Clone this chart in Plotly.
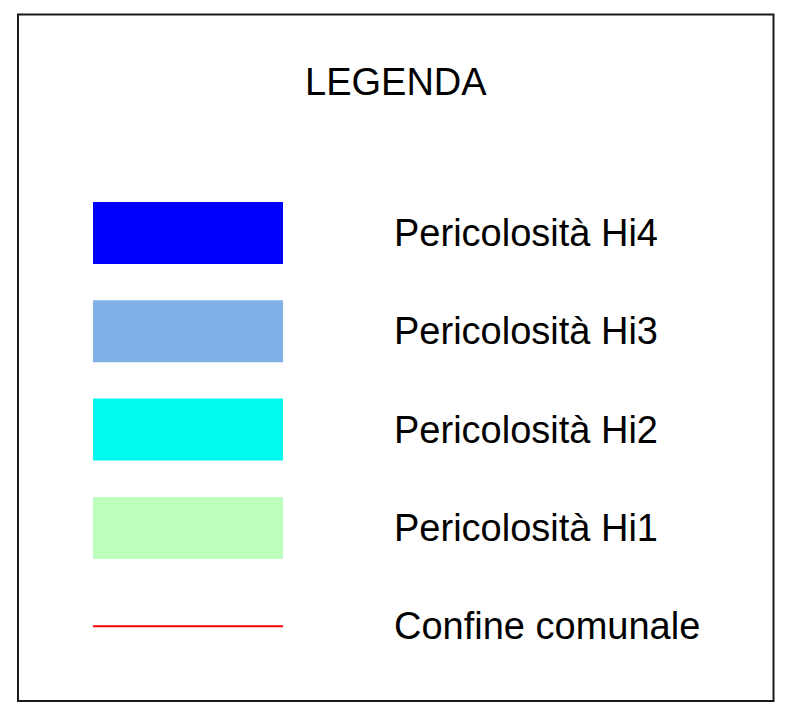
import plotly.graph_objects as go

# Legend content
title_text = "LEGENDA"
area_labels = ["Pericolosità Hi4", "Pericolosità Hi3", "Pericolosità Hi2", "Pericolosità Hi1"]
area_colors = ["#0000FF", "#80B1E6", "#00FAF0", "#BEFFBE"]
line_label = "Confine comunale"
line_color = "#FF0000"

W, H = 790, 704
FONT = "Liberation Sans, Arial, sans-serif"
FS = 38

fig = go.Figure()

shapes = []
annotations = []

# outer frame
shapes.append(dict(type="rect", x0=18, y0=14.5, x1=773.5, y1=701,
                   line=dict(color="#1a1a1a", width=2), fillcolor="rgba(0,0,0,0)"))

annotations.append(dict(x=395.5, y=82, text=title_text, showarrow=False,
                        xanchor="center", yanchor="middle",
                        font=dict(family=FONT, size=FS, color="#000")))

sw_x0, sw_x1 = 93, 283
y_first, step, sw_h = 233, 98.3, 62
text_x = 392

for i, (lab, col) in enumerate(zip(area_labels, area_colors)):
    yc = y_first + i * step
    shapes.append(dict(type="rect", x0=sw_x0, x1=sw_x1, y0=yc - sw_h / 2, y1=yc + sw_h / 2,
                       line=dict(width=0), fillcolor=col))
    annotations.append(dict(x=text_x, y=yc, text=lab, showarrow=False,
                            xanchor="left", yanchor="middle",
                            font=dict(family=FONT, size=FS, color="#000")))

yl = y_first + len(area_labels) * step
shapes.append(dict(type="line", x0=sw_x0, x1=sw_x1, y0=yl, y1=yl,
                   line=dict(color=line_color, width=2)))
annotations.append(dict(x=text_x, y=yl, text=line_label, showarrow=False,
                        xanchor="left", yanchor="middle",
                        font=dict(family=FONT, size=FS, color="#000")))

fig.update_layout(
    width=W, height=H,
    margin=dict(l=0, r=0, t=0, b=0),
    paper_bgcolor="white", plot_bgcolor="white",
    xaxis=dict(range=[0, W], visible=False, fixedrange=True),
    yaxis=dict(range=[H, 0], visible=False, fixedrange=True),
    shapes=shapes, annotations=annotations, showlegend=False,
)

fig.write_html("out.html", config={"displayModeBar": False},
               post_script="document.body.style.margin='0';document.body.style.overflow='hidden';")
